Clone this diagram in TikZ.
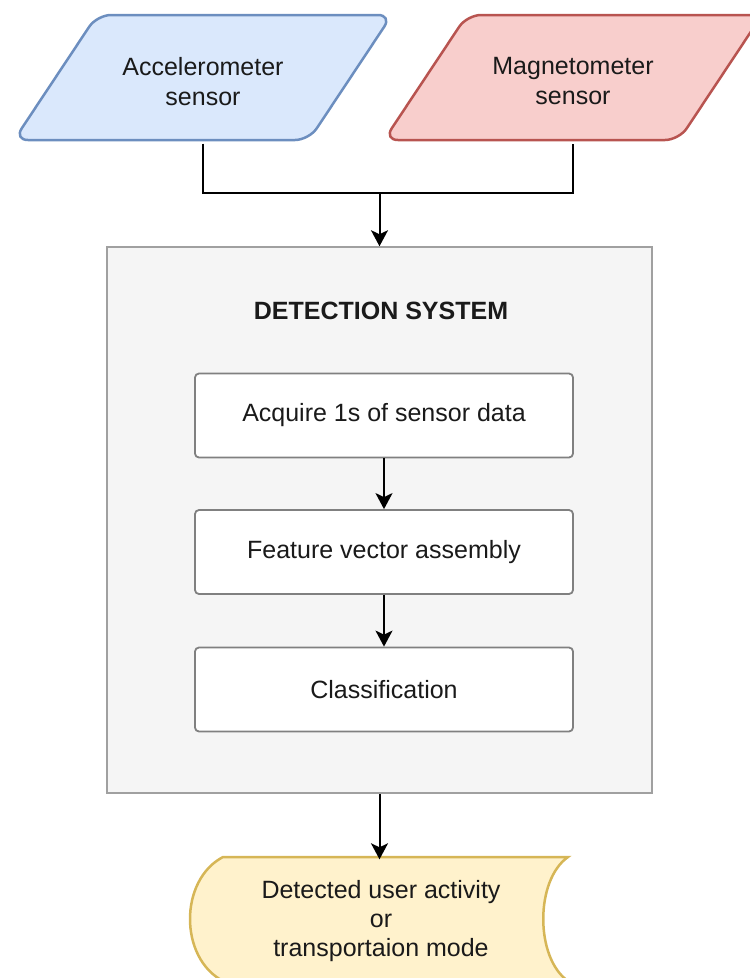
\documentclass[tikz,border=0pt]{standalone}
\usepackage{fontspec}
\setmainfont{Liberation Sans}
\usetikzlibrary{arrows.meta,calc}
\definecolor{accfill}{HTML}{DAE8FC}
\definecolor{accline}{HTML}{6C8EBF}
\definecolor{magfill}{HTML}{F8CECC}
\definecolor{magline}{HTML}{B85450}
\definecolor{outfill}{HTML}{FFF2CC}
\definecolor{outln}{HTML}{D6B656}
\definecolor{sysfill}{HTML}{F5F5F5}
\definecolor{sysline}{HTML}{A0A0A0}
\definecolor{boxline}{HTML}{808080}
\definecolor{txtcol}{HTML}{1A1A1A}
\begin{document}
\begin{tikzpicture}[x=1pt,y=-1pt,
  txt/.style={font=\fontsize{25}{30}\selectfont, align=center, text=txtcol, inner sep=0pt},
  proc/.style={txt, draw=boxline, line width=1.8pt, fill=white, rounded corners=4pt, minimum width=378pt, minimum height=84pt},
  conn/.style={line width=2pt, black},
  arr/.style={conn, -{Stealth[length=16pt,width=17pt,inset=4pt]}},
  para/.style={line width=2.5pt, rounded corners=14pt},
]
\useasboundingbox (0,0) rectangle (750,978);
\clip (0,0) rectangle (750,978);

% sensors
\draw[para, draw=accline, fill=accfill] (14,140) -- (97,15) -- (392,15) -- (309,140) -- cycle;
\node[txt, minimum width=200pt, minimum height=124pt] (acc) at (203,81.5) {Accelerometer\\sensor};
\draw[para, draw=magline, fill=magfill] (384,140) -- (467,15) -- (762,15) -- (679,140) -- cycle;
\node[txt, minimum width=200pt, minimum height=124pt] (mag) at (573,81.5) {Magnetometer\\sensor};

% detection system
\node[draw=sysline, fill=sysfill, line width=1.5pt, minimum width=545pt, minimum height=546pt, inner sep=0pt] (sys) at (379.5,520) {};
\node[txt, font=\fontsize{25}{30}\selectfont\bfseries] (title) at (381,311) {DETECTION SYSTEM};

\coordinate (join) at (379.5,193);
\draw[conn] (acc.south) |- (join) -| (mag.south);
\draw[arr] (join) -- (sys.north);

\node[proc] (b1) at (384,415.5) {Acquire 1s of sensor data};
\node[proc] (b2) at (384,552) {Feature vector assembly};
\node[proc] (b3) at (384,689.5) {Classification};
\draw[arr] (b1.south) -- (b2.north);
\draw[arr] (b2.south) -- (b3.north);

% output
\draw[line width=2.5pt, draw=outln, fill=outfill]
  (223,857) -- (568,857) .. controls (535,880) and (535,958) .. (568,981)
  -- (223,981) .. controls (179,958) and (179,880) .. (223,857) -- cycle;
\node[txt, minimum width=300pt, minimum height=124pt, font=\fontsize{25}{29}\selectfont] (out) at (381,921.5) {Detected user activity\\or\\transportaion mode};
\draw[arr] (sys.south) -- (sys.south |- out.north);
\end{tikzpicture}
\end{document}
